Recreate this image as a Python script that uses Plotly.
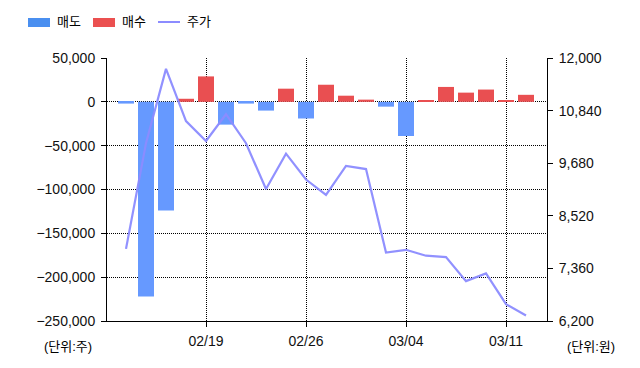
import plotly.graph_objects as go

# ---- data ----
dates = ["02/13", "02/14", "02/15", "02/16", "02/19", "02/20", "02/21", "02/22", "02/23",
         "02/26", "02/27", "02/28", "02/29", "03/01", "03/04", "03/05", "03/06", "03/07",
         "03/08", "03/11", "03/12"]
net_volume = [-2000, -222000, -124000, 3500, 29000, -26000, -2000, -10000, 15000,
              -19000, 19500, 7000, 2500, -5500, -39000, 1000, 17000, 10500,
              14000, 1000, 8000]
price = [7790, 10120, 11760, 10610, 10170, 10760, 10120, 9110, 9890,
         9320, 8980, 9620, 9550, 7710, 7770, 7640, 7610, 7080,
         7250, 6570, 6320]
sell = [v if v < 0 else None for v in net_volume]
buy = [v if v > 0 else None for v in net_volume]
tick_dates = ["02/19", "02/26", "03/04", "03/11"]
legend_names = ["매도", "매수", "주가"]

BLUE = "#6699FF"
RED = "#E94F51"
LINE = "#8C8CFF"
FONT = "Liberation Sans, Noto Sans CJK KR, sans-serif"

# page body has an 8px margin: figure is drawn 8px right/down
OFF = 8
# plot area in reference pixels
L, R, T, B = 107, 547, 58, 321
W, H = 640 - OFF, 368 - OFF


def px(x):
    return (x - L) / (R - L)


def py(y):
    return (B - y) / (B - T)


fig = go.Figure()
fig.add_trace(go.Bar(x=dates, y=sell, marker=dict(color=BLUE, line_width=0), name=legend_names[0]))
fig.add_trace(go.Bar(x=dates, y=buy, marker=dict(color=RED, line_width=0), name=legend_names[1]))
fig.add_trace(go.Scatter(x=dates, y=price, yaxis="y2", mode="lines",
                         line=dict(color=LINE, width=2.2), opacity=0.95, name=legend_names[2]))

grid = dict(showgrid=True, gridcolor="black", gridwidth=1, griddash="1px,1px")

fig.update_layout(
    width=W, height=H,
    margin=dict(l=L - OFF, r=640 - R, t=T - OFF, b=368 - B, autoexpand=False),
    paper_bgcolor="white", plot_bgcolor="white",
    barmode="relative", bargap=0.2,
    showlegend=False,
    font=dict(family=FONT, size=14, color="#111111"),
    xaxis=dict(type="category", categoryorder="array", categoryarray=dates,
               range=[-0.95, 21.05], tickvals=tick_dates, ticktext=tick_dates,
               ticks="outside", ticklen=5, tickcolor="black", ticklabelstandoff=2,
               showline=True, linecolor="black", linewidth=1, zeroline=False, **grid),
    yaxis=dict(range=[-250000, 50000], dtick=50000, tick0=0, tickformat=",",
               ticks="outside", ticklen=5, tickcolor="black", ticklabelstandoff=3,
               showline=True, linecolor="black", linewidth=1, zeroline=False, **grid),
    yaxis2=dict(range=[6200, 12000], dtick=1160, tick0=6200, tickformat=",",
                overlaying="y", side="right", showgrid=False, zeroline=False,
                ticks="outside", ticklen=5, tickcolor="black", ticklabelstandoff=3,
                showline=True, linecolor="black", linewidth=1),
)

# manual legend
shapes = []
annotations = []
legend_items = [(28, "rect", "#4A8FF0", legend_names[0]),
                (93, "rect", "#EB5050", legend_names[1]),
                (158, "line", LINE, legend_names[2])]
for x0, kind, col, name in legend_items:
    if kind == "rect":
        shapes.append(dict(type="rect", xref="paper", yref="paper",
                           x0=px(x0), x1=px(x0 + 22), y0=py(27), y1=py(18),
                           fillcolor=col, line_width=0))
    else:
        shapes.append(dict(type="line", xref="paper", yref="paper",
                           x0=px(x0), x1=px(x0 + 22), y0=py(22), y1=py(22),
                           line=dict(color=col, width=2)))
    annotations.append(dict(xref="paper", yref="paper", x=px(x0 + 27), y=py(22),
                            text=name, showarrow=False, xanchor="left", yanchor="middle",
                            font=dict(size=13, color="black")))

annotations.append(dict(xref="paper", yref="paper", x=px(42), y=py(346), text="(단위:주)",
                        showarrow=False, xanchor="left", yanchor="middle",
                        font=dict(size=13, color="black")))
annotations.append(dict(xref="paper", yref="paper", x=px(565), y=py(346), text="(단위:원)",
                        showarrow=False, xanchor="left", yanchor="middle",
                        font=dict(size=13, color="black")))
fig.update_layout(shapes=shapes, annotations=annotations)

fig.write_html("out.html")
